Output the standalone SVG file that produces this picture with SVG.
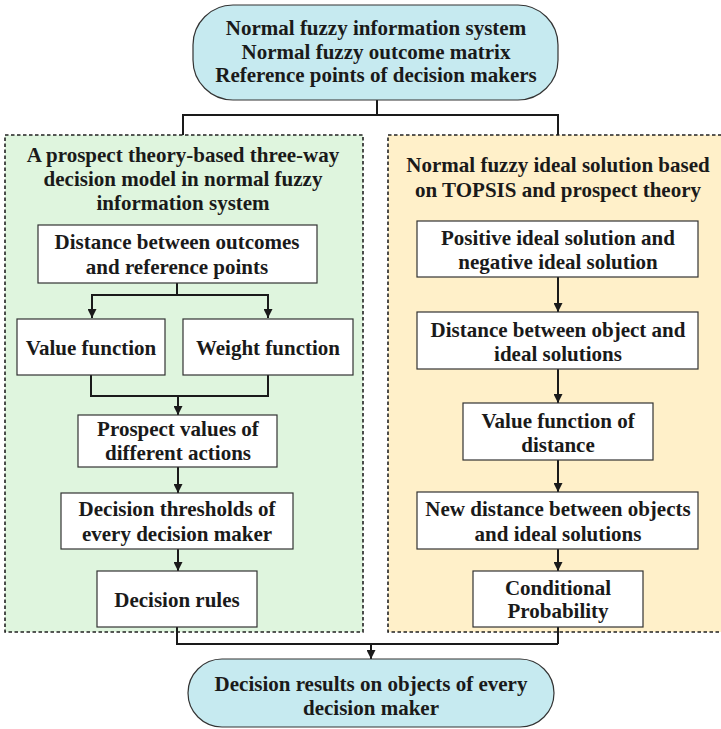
<svg xmlns="http://www.w3.org/2000/svg" width="721" height="729" viewBox="0 0 721 729">
<style>
.box{fill:#fff;stroke:#333;stroke-width:1.2}
.term{fill:#c6eaf0;stroke:#333;stroke-width:1.2}
.grp{stroke:#222;stroke-width:1.6;stroke-dasharray:3.5,2.5}
.c{fill:none;stroke:#1a1a1a;stroke-width:2}
</style>
<defs>
<marker id="ah" viewBox="0 0 10 10" refX="10" refY="5" markerWidth="4.5" markerHeight="4.5" orient="auto" markerUnits="strokeWidth">
<path d="M0,0 L10,5 L0,10 z" fill="#1a1a1a"/>
</marker>
</defs>
<rect width="721" height="729" fill="#fff"/>
<g font-family="Liberation Serif" font-weight="bold" fill="#1a1a1a" text-anchor="middle" font-size="21">
<g id="groupLeft"><rect class="grp" x="5" y="135" width="358" height="497" fill="#dff5de"/>
<text x="183" y="162">A prospect theory-based three-way</text>
<text x="183" y="186">decision model in normal fuzzy</text>
<text x="183" y="210">information system</text></g>
<g id="groupRight"><rect class="grp" x="388" y="135" width="340" height="497" fill="#fff0c9"/>
<text x="558" y="172">Normal fuzzy ideal solution based</text>
<text x="558" y="197">on TOPSIS and prospect theory</text></g>
<g id="connectors">
<path class="c" d="M377,100 V115 M183,115 H558 M183,114 V135 M558,114 V135"/>
<path class="c" d="M177,283 V295 M91,295 H269"/>
<path class="c" d="M92,294 V318" marker-end="url(#ah)"/>
<path class="c" d="M268,294 V318" marker-end="url(#ah)"/>
<path class="c" d="M91,375 V396 H269 M268,375 V396"/>
<path class="c" d="M178,396 V415" marker-end="url(#ah)"/>
<path class="c" d="M178,467 V493" marker-end="url(#ah)"/>
<path class="c" d="M178,549 V571" marker-end="url(#ah)"/>
<path class="c" d="M177,627 V644 H558 M558,627 V644"/>
<path class="c" d="M371,643 V659" marker-end="url(#ah)"/>
<path class="c" d="M558,277 V312" marker-end="url(#ah)"/>
<path class="c" d="M558,369 V403" marker-end="url(#ah)"/>
<path class="c" d="M558,460 V492" marker-end="url(#ah)"/>
<path class="c" d="M558,549 V571" marker-end="url(#ah)"/>
</g>
<g id="top"><rect class="term" x="193" y="5" width="365" height="95" rx="40" ry="40"/>
<text x="376" y="35">Normal fuzzy information system</text>
<text x="376" y="59">Normal fuzzy outcome matrix</text>
<text x="376" y="82">Reference points of decision makers</text></g>
<g id="distOutcomes"><rect class="box" x="38" y="225" width="279" height="58"/>
<text x="177" y="249">Distance between outcomes</text>
<text x="177" y="274">and reference points</text></g>
<g id="valueFn"><rect class="box" x="17" y="319" width="148" height="56"/>
<text x="91" y="355">Value function</text></g>
<g id="weightFn"><rect class="box" x="183" y="319" width="170" height="56"/>
<text x="268" y="355">Weight function</text></g>
<g id="prospect"><rect class="box" x="78" y="415" width="199" height="52"/>
<text x="178" y="436">Prospect values of</text>
<text x="178" y="460">different actions</text></g>
<g id="thresholds"><rect class="box" x="61" y="493" width="232" height="56"/>
<text x="177" y="516">Decision thresholds of</text>
<text x="177" y="541">every decision maker</text></g>
<g id="rules"><rect class="box" x="97" y="571" width="160" height="56"/>
<text x="177" y="607">Decision rules</text></g>
<g id="posNeg"><rect class="box" x="417" y="221" width="281" height="56"/>
<text x="558" y="245">Positive ideal solution and</text>
<text x="558" y="269">negative ideal solution</text></g>
<g id="distObj"><rect class="box" x="417" y="312" width="281" height="57"/>
<text x="558" y="337">Distance between object and</text>
<text x="558" y="361">ideal solutions</text></g>
<g id="valueDist"><rect class="box" x="463" y="403" width="190" height="57"/>
<text x="558" y="428">Value function of</text>
<text x="558" y="452">distance</text></g>
<g id="newDist"><rect class="box" x="417" y="492" width="281" height="57"/>
<text x="558" y="516">New distance between objects</text>
<text x="558" y="541">and ideal solutions</text></g>
<g id="condProb"><rect class="box" x="473" y="571" width="170" height="56"/>
<text x="558" y="595">Conditional</text>
<text x="558" y="618">Probability</text></g>
<g id="bottom"><rect class="term" x="188" y="659" width="366" height="68" rx="34" ry="34"/>
<text x="371" y="691">Decision results on objects of every</text>
<text x="371" y="715">decision maker</text></g>
</g>
</svg>
